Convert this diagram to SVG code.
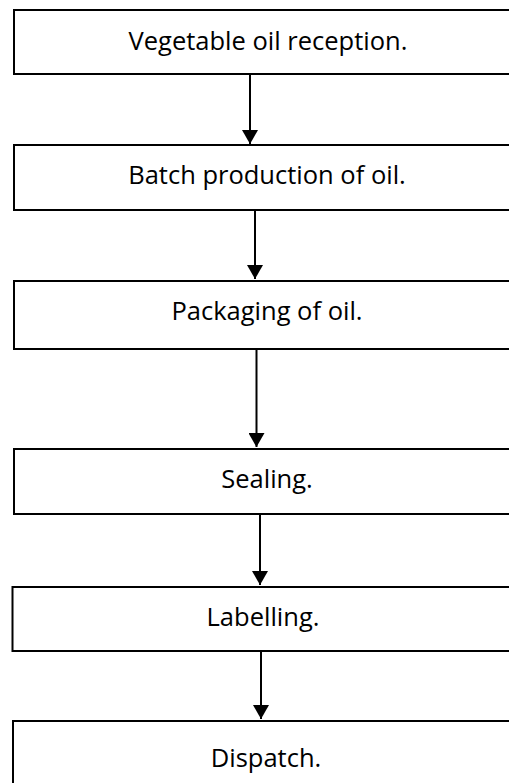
<svg xmlns="http://www.w3.org/2000/svg" width="509" height="783" viewBox="0 0 509 783">
  <style>
    .box { fill: #ffffff; stroke: #000000; stroke-width: 2; }
    .lbl { font-family: "Open Sans", "Liberation Sans", sans-serif; font-size: 25.5px; fill: #000000; text-anchor: middle; }
    .conn { stroke: #000000; stroke-width: 2; fill: none; marker-end: url(#arrow); }
  </style>
  <defs>
    <marker id="arrow" markerUnits="userSpaceOnUse" viewBox="0 0 14 16" refX="14" refY="8" markerWidth="14" markerHeight="16" orient="auto">
      <path d="M0,0 L14,8 L0,16 z" fill="#000000"/>
    </marker>
  </defs>
  <rect width="509" height="783" fill="#ffffff"/>
  <g id="n1">
    <rect class="box" x="14" y="10" width="510" height="64"/>
    <text class="lbl" x="268" y="50">Vegetable oil reception.</text>
  </g>
  <g id="n2">
    <rect class="box" x="14" y="145" width="510" height="65"/>
    <text class="lbl" x="267" y="184">Batch production of oil.</text>
  </g>
  <g id="n3">
    <rect class="box" x="14" y="281" width="510" height="68"/>
    <text class="lbl" x="267" y="320">Packaging of oil.</text>
  </g>
  <g id="n4">
    <rect class="box" x="14" y="449" width="510" height="65"/>
    <text class="lbl" x="267" y="488">Sealing.</text>
  </g>
  <g id="n5">
    <rect class="box" x="12.5" y="587" width="510" height="64"/>
    <text class="lbl" x="263" y="626">Labelling.</text>
  </g>
  <g id="n6">
    <rect class="box" x="13" y="721" width="510" height="80"/>
    <text class="lbl" x="266" y="767">Dispatch.</text>
  </g>
  <g id="connectors">
    <line class="conn" x1="250" y1="74" x2="250" y2="144"/>
    <line class="conn" x1="255" y1="210" x2="255" y2="279"/>
    <line class="conn" x1="256.5" y1="349" x2="256.5" y2="447"/>
    <line class="conn" x1="260" y1="514" x2="260" y2="585"/>
    <line class="conn" x1="261" y1="651" x2="261" y2="719"/>
  </g>
</svg>
